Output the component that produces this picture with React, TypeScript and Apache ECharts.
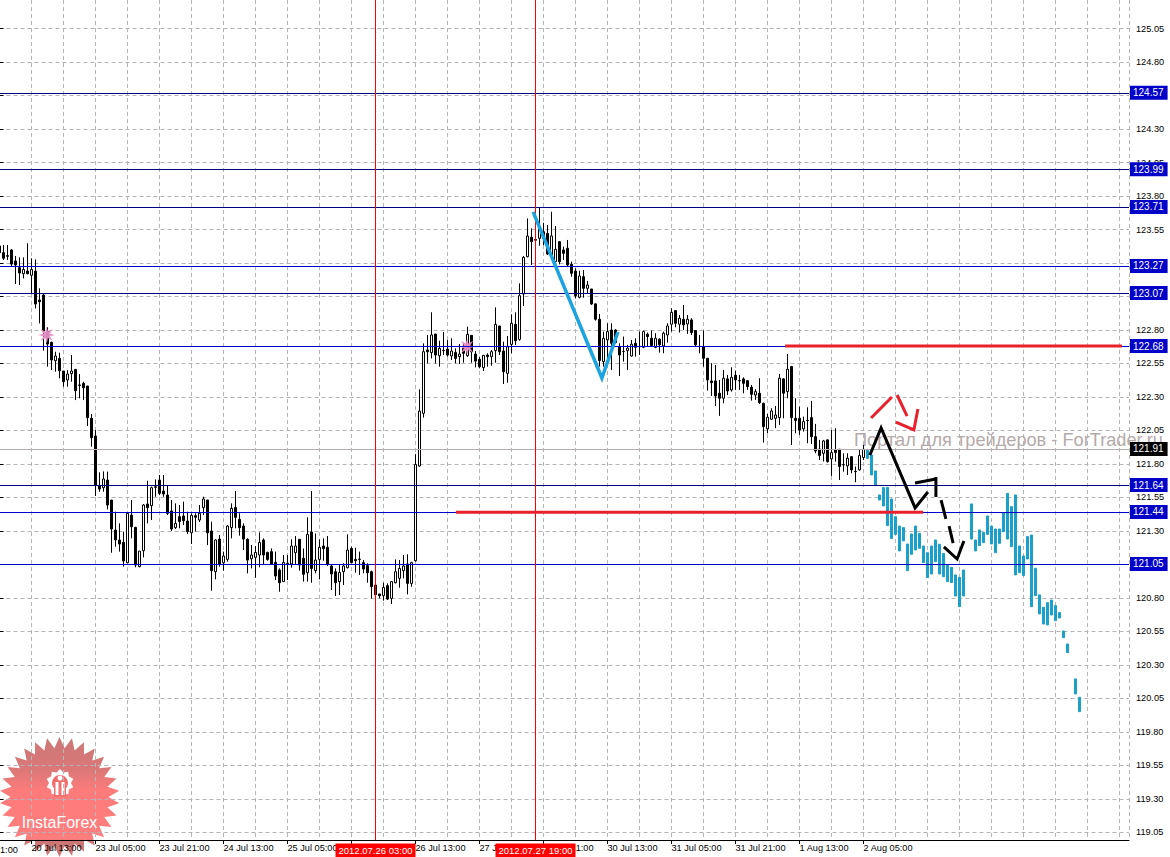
import React, { useEffect, useRef } from "react";
import * as echarts from "echarts";

// open, high, low, close of each hourly bar
const candles: number[][] = [
[123.427,123.44,123.35,123.377],[123.377,123.434,123.322,123.335],[123.355,123.434,123.322,123.35],[123.397,123.404,123.277,123.292],
[123.315,123.352,123.143,123.285],[123.265,123.342,123.136,123.225],[123.22,123.342,123.185,123.252],[123.24,123.447,123.215,123.22],
[123.208,123.335,123.073,123.252],[123.24,123.327,122.961,122.994],[123.024,123.111,122.849,123.011],[123.061,123.073,122.646,122.792],
[122.787,122.82,122.526,122.695],[122.708,122.713,122.501,122.576],[122.571,122.638,122.489,122.606],[122.588,122.631,122.439,122.496],
[122.494,122.494,122.377,122.414],[122.427,122.501,122.377,122.471],[122.474,122.613,122.414,122.494],[122.506,122.506,122.277,122.347],
[122.39,122.471,122.29,122.387],[122.402,122.414,122.277,122.369],[122.382,122.382,122.083,122.146],[122.141,122.173,121.929,121.996],
[122.009,122.053,121.561,121.643],[121.636,121.738,121.593,121.613],[121.623,121.745,121.593,121.688],[121.68,121.743,121.461,121.494],
[121.531,121.531,121.138,121.315],[121.307,121.444,121.183,121.233],[121.233,121.357,121.146,121.203],[121.215,121.295,121.034,121.076],
[121.063,121.437,121.06,121.432],[121.419,121.531,121.245,121.332],[121.327,121.332,121.029,121.046],[121.034,121.15,121.029,121.15],
[121.153,121.501,121.103,121.494],[121.501,121.675,121.357,121.474],[121.489,121.631,121.382,121.623],[121.63,121.685,121.556,121.626],
[121.68,121.718,121.568,121.581],[121.598,121.718,121.556,121.576],[121.568,121.636,121.419,121.432],[121.449,121.531,121.3,121.315],
[121.325,121.506,121.315,121.357],[121.407,121.494,121.32,121.37],[121.412,121.519,121.345,121.377],[121.374,121.444,121.277,121.295],
[121.287,121.432,121.203,121.417],[121.414,121.432,121.295,121.402],[121.382,121.494,121.367,121.432],[121.474,121.556,121.419,121.539],
[121.531,121.531,121.195,121.287],[121.3,121.37,120.854,121.004],[120.996,121.238,120.939,121.233],[121.24,121.27,121.034,121.053],
[121.063,121.146,121.004,121.113],[121.088,121.345,121.071,121.337],[121.325,121.506,121.245,121.469],[121.476,121.598,121.32,121.402],
[121.387,121.432,121.265,121.325],[121.337,121.357,121.158,121.24],[121.238,121.245,120.984,121.083],[121.093,121.195,121.021,121.121],
[121.103,121.188,120.951,121.14],[121.121,121.29,121.029,121.215],[121.233,121.245,121.051,121.121],[121.14,121.146,121.078,121.088],
[121.146,121.17,121.046,121.053],[121.066,121.146,120.934,120.964],[121.009,121.021,120.847,120.914],[120.922,121.121,120.92,121.066],
[121.06,121.121,120.934,121.058],[121.054,121.238,121.026,121.188],[121.138,121.263,121.046,121.188],[121.238,121.238,121.004,121.046],
[121.096,121.17,120.922,120.977],[120.989,121.402,120.922,121.275],[121.292,121.598,120.914,121.021],[121.004,121.282,120.984,121.083],
[121.088,121.238,120.939,121.178],[121.188,121.245,121.078,121.168],[121.178,121.263,121.039,121.054],[121.039,121.046,120.86,120.979],
[120.996,121.021,120.815,120.914],[120.922,121.046,120.822,120.991],[120.996,121.059,120.897,121.039],[121.026,121.275,121.021,121.158],
[121.17,121.183,121.059,121.064],[121.088,121.175,120.989,121.078],[121.09,121.146,120.972,121.088],[121.064,121.083,120.984,121.016],
[121.041,121.059,120.914,120.989],[120.996,121.004,120.797,120.884],[120.897,120.972,120.797,120.825],[120.83,120.83,120.797,120.817],
[120.817,120.914,120.78,120.879],[120.892,120.909,120.785,120.792],[120.797,120.927,120.755,120.922],[120.914,121.088,120.909,120.996],
[120.947,121.083,120.877,121.021],[121.004,121.121,120.947,121.039],[121.054,121.126,120.827,120.909],[120.909,121.071,120.884,121.064],
[121.078,121.874,121.071,121.797],[121.785,122.357,121.78,122.195],[122.178,122.7,122.146,122.638],[122.651,122.763,122.551,122.638],
[122.631,122.932,122.588,122.763],[122.77,122.77,122.551,122.613],[122.608,122.72,122.526,122.663],[122.648,122.785,122.613,122.646],
[122.658,122.725,122.601,122.613],[122.606,122.738,122.576,122.643],[122.633,122.663,122.551,122.588],[122.601,122.695,122.546,122.621],
[122.663,122.7,122.556,122.626],[122.608,122.825,122.6,122.768],[122.76,122.76,122.556,122.638],[122.621,122.643,122.521,122.568],
[122.581,122.601,122.514,122.526],[122.519,122.613,122.494,122.611],[122.613,122.626,122.526,122.601],[122.601,122.651,122.534,122.638],
[122.646,122.969,122.556,122.842],[122.83,122.83,122.613,122.638],[122.643,122.713,122.397,122.489],[122.476,122.755,122.407,122.675],
[122.693,122.917,122.626,122.85],[122.842,122.932,122.688,122.72],[122.73,123.148,122.72,123.056],[123.069,123.352,122.979,123.342],
[123.347,123.633,123.342,123.501],[123.492,123.559,123.285,123.459],[123.475,123.5,123.44,123.47],[123.484,123.715,123.429,123.559],
[123.534,123.601,123.434,123.484],[123.521,123.583,123.36,123.367],[123.36,123.683,123.323,123.502],[123.31,123.576,123.285,123.402],
[123.459,123.464,123.29,123.31],[123.397,123.422,123.323,123.372],[123.41,123.472,123.273,123.285],[123.29,123.31,123.198,123.223],
[123.24,123.26,123.036,123.056],[123.044,123.243,123.036,123.203],[123.198,123.248,123.041,123.111],[123.111,123.166,123.074,123.136],
[123.106,123.106,122.987,122.994],[122.995,122.99,122.87,122.88],[122.88,122.92,122.527,122.572],[122.564,122.788,122.527,122.738],
[122.726,122.85,122.532,122.788],[122.8,122.85,122.502,122.701],[122.8,122.805,122.7,122.706],[122.676,122.701,122.457,122.614],
[122.64,122.751,122.564,122.639],[122.646,122.689,122.502,122.664],[122.606,122.726,122.601,122.694],[122.701,122.738,122.601,122.671],
[122.678,122.788,122.614,122.676],[122.671,122.796,122.664,122.788],[122.768,122.781,122.676,122.751],[122.738,122.796,122.676,122.684],
[122.671,122.776,122.664,122.738],[122.731,122.738,122.631,122.689],[122.681,122.788,122.626,122.776],[122.763,122.85,122.706,122.83],
[122.843,122.962,122.788,122.932],[122.945,122.945,122.82,122.85],[122.843,122.912,122.781,122.888],[122.88,122.987,122.8,122.838],
[122.845,122.912,122.771,122.88],[122.875,122.888,122.763,122.781],[122.796,122.8,122.676,122.689],[122.678,122.763,122.626,122.676],
[122.676,122.796,122.527,122.589],[122.589,122.589,122.348,122.427],[122.42,122.552,122.308,122.407],[122.42,122.539,122.233,122.308],
[122.328,122.427,122.159,122.291],[122.291,122.502,122.253,122.44],[122.435,122.465,122.315,122.345],[122.353,122.522,122.34,122.447],
[122.462,122.497,122.353,122.427],[122.422,122.465,122.353,122.42],[122.435,122.447,122.328,122.402],[122.422,122.427,122.353,122.378],
[122.373,122.39,122.273,122.32],[122.315,122.358,122.278,122.34],[122.328,122.44,122.248,122.258],[122.253,122.258,121.96,122.079],
[122.062,122.174,122.029,122.149],[122.134,122.216,122.129,122.196],[122.141,122.233,122.067,122.166],[122.146,122.472,122.092,122.44],
[122.435,122.44,122.141,122.328],[122.34,122.621,122.291,122.507],[122.527,122.532,121.942,122.146],[122.141,122.291,122.029,122.124],
[122.141,122.228,122.017,122.054],[122.062,122.154,122.042,122.116],[122.126,122.223,121.955,122.124],[122.146,122.271,121.95,122.004],
[122.004,122.099,121.88,121.897],[121.912,121.98,121.83,121.863],[121.88,121.98,121.818,121.972],[121.98,121.985,121.81,121.818],
[121.838,122.054,121.711,121.885],[121.905,122.067,121.818,121.885],[121.91,121.91,121.681,121.781],[121.795,121.88,121.743,121.793],
[121.786,121.88,121.718,121.843],[121.855,121.855,121.731,121.756],[121.745,121.781,121.664,121.743],[121.756,121.905,121.75,121.863],
[121.848,121.942,121.83,121.91],
];

// projected path: bar position, top, bottom
const projection: number[][] = [
[217,121.905,121.842],[218,121.867,121.718],[219,121.748,121.643],[220,121.569,121.531],[221,121.624,121.487],[222,121.626,121.34],
[223,121.539,121.245],[224,121.407,121.275],[225,121.337,121.151],[226,121.325,121.226],[227,121.203,121.004],[228,121.278,121.126],
[229,121.337,121.158],[230,121.283,121.171],[231,121.188,121.064],[232,121.138,120.952],[233,121.188,120.979],[234,121.233,121.071],
[235,121.201,120.979],[236,121.133,120.959],[237,121.046,120.922],[238,121.029,120.915],[239,120.972,120.815],[240,120.954,120.735],
[241,121.009,120.815],[243,121.502,121.24],[244,121.233,121.151],[245,121.308,121.191],[246,121.29,121.213],[247,121.412,121.275],
[248,121.337,121.203],[249,121.315,121.138],[250,121.315,121.208],[251,121.437,121.295],[252,121.581,121.24],[253,121.482,121.183],
[254,121.569,120.972],[255,121.188,120.989],[256,121.114,120.967],[257,121.258,121.091],[258,121.27,120.735],[259,121.022,120.818],
[260,120.823,120.681],[261,120.731,120.606],[262,120.765,120.599],[263,120.785,120.673],[264,120.743,120.631],[265,120.691,120.651],
[266,120.554,120.504],[267,120.457,120.392],[269,120.196,120.084],[270,120.059,119.952],
];

const timeLabels: Record<number, string> = {
  8: "20 Jul 13:00", 24: "23 Jul 05:00", 40: "23 Jul 21:00", 56: "24 Jul 13:00", 72: "25 Jul 05:00",
  88: "25 Jul 21:00", 104: "26 Jul 13:00", 120: "27 Jul 05:00", 136: "27 Jul 21:00", 152: "30 Jul 13:00",
  168: "31 Jul 05:00", 184: "31 Jul 21:00", 200: "1 Aug 13:00", 216: "2 Aug 05:00",
};
const priceTicks = [119.05,119.3,119.55,119.8,120.05,120.3,120.55,120.8,121.05,121.3,121.55,121.8,122.05,122.3,122.55,122.8,123.05,123.3,123.55,123.8,124.05,124.3,124.55,124.8,125.05];

const levels = [
  { value: 124.57, label: "124.57", color: "#000080" },
  { value: 123.999, label: "123.99", color: "#000080" },
  { value: 123.718, label: "123.71", color: "#000080" },
  { value: 123.278, label: "123.27", color: "#0000cd" },
  { value: 123.076, label: "123.07", color: "#000080" },
  { value: 122.68, label: "122.68", color: "#0000cd" },
  { value: 121.643, label: "121.64", color: "#000080" },
  { value: 121.442, label: "121.44", color: "#0000cd" },
  { value: 121.054, label: "121.05", color: "#0000cd" },
];
const bidLevel = 121.912;
const cursorBars = [94, 134];
const cursorLabels = ["2012.07.26 03:00", "2012.07.27 19:00"];
const stars = [[11.8, 122.763], [116.9, 122.675]];

const redLevels = [
  [[196.4, 122.68], [280.6, 122.68]],
  [[114.1, 121.44], [230.9, 121.44]],
];
const bluePath = [[133.4, 123.681], [150.6, 122.442], [154.6, 122.785]];
const blackPaths = [
  [[217.6, 121.867], [220.4, 122.069], [228.9, 121.472], [232.1, 121.591]],
  [[228.9, 121.658], [234.1, 121.688]],
  [[234.1, 121.703], [234.1, 121.554]],
  [[235.4, 121.531], [236.6, 121.39]],
  [[237.4, 121.337], [238.4, 121.21]],
  [[236.1, 121.181], [239.4, 121.091], [241.1, 121.225]],
];
const redPaths = [
  [[217.9, 122.143], [223.1, 122.3]],
  [[224.4, 122.315], [226.9, 122.158]],
  [[224.1, 122.113], [228.6, 122.054], [229.6, 122.21]],
];

const FONT = "'Liberation Sans', Arial, sans-serif";
const X_MAX = 282.375;
const LABEL_BLUE = "#0000c8";

function starPath(n: number, outer: number, inner: number): string {
  let d = "path://";
  for (let i = 0; i < n * 2; i++) {
    const r = i % 2 ? inner : outer;
    const a = (Math.PI * i) / n;
    d += `${i ? "L" : "M"}${(12 + r * Math.sin(a)).toFixed(2)} ${(12 - r * Math.cos(a)).toFixed(2)}`;
  }
  return d + "Z";
}
function burst(cx: number, cy: number, outer: number, inner: number, n: number): number[][] {
  const pts: number[][] = [];
  for (let i = 0; i < n * 2; i++) {
    const r = i % 2 ? inner : outer;
    const a = (Math.PI * i) / n;
    pts.push([cx + r * Math.sin(a), cy - r * Math.cos(a)]);
  }
  return pts;
}

function poly(data: number[][], color: string, width: number) {
  return {
    type: "line", data, showSymbol: false, symbol: "none", silent: true, z: 12,
    lineStyle: { color, width, cap: "butt", join: "miter" },
  };
}

export default function App() {
  const ref = useRef<HTMLDivElement>(null);
  useEffect(() => {
    const chart = echarts.init(ref.current!, null, { renderer: "svg" });
    const logoFill = {
      type: "linear", x: 0, y: 0, x2: 0, y2: 1,
      colorStops: [
        { offset: 0, color: "#c76b6b" }, { offset: 0.28, color: "#d96c6c" }, { offset: 0.45, color: "#ff7070" },
        { offset: 0.85, color: "#ff7272" }, { offset: 0.87, color: "#c96a6a" }, { offset: 1, color: "#c96a6a" },
      ],
    };
    const logo: any[] = [
      { type: "polygon", z: -1, shape: { points: burst(59.5, 797, 60, 49, 30) }, style: { fill: logoFill, opacity: 0.92 } },
      { type: "polygon", z: -1, shape: { points: burst(60, 783, 14, 11, 10) }, style: { fill: "#fff" } },
      { type: "circle", z: -1, shape: { cx: 60, cy: 783, r: 8 }, style: { fill: "#f06e6e" } },
      { type: "rect", z: -1, shape: { x: 54, y: 787, width: 12, height: 10 }, style: { fill: "#f57070" } },
      { type: "circle", z: -1, shape: { cx: 60, cy: 778, r: 2.5 }, style: { fill: "#fff" } },
      { type: "rect", z: -1, shape: { x: 55.5, y: 782, width: 3, height: 13 }, style: { fill: "#fff" } },
      { type: "rect", z: -1, shape: { x: 61.5, y: 782, width: 3, height: 13 }, style: { fill: "#fff" } },
      { type: "text", z: 1, x: 59.5, y: 822, style: { text: "InstaForex", fill: "#fff", font: `16px ${FONT}`, align: "center", verticalAlign: "middle" } },
    ];
    const cursorBoxes: any[] = cursorBars.flatMap((b, i) => {
      const cx = b * 4 - 0.5;
      return [
        { type: "rect", z: 20, shape: { x: cx - 40, y: 843.5, width: 80, height: 13.5 }, style: { fill: "#ff0000" } },
        { type: "text", z: 21, x: cx, y: 850.5, style: { text: cursorLabels[i], fill: "#fff", font: `9.5px ${FONT}`, align: "center", verticalAlign: "middle" } },
      ];
    });
    const option: any = {
      animation: false,
      backgroundColor: "#ffffff",
      grid: { left: -0.5, top: 0, width: 1129.5, height: 840, containLabel: false, outerBoundsMode: "none" },
      xAxis: [
        {
          type: "value", min: 0, max: X_MAX, interval: 8,
          axisLine: { show: true, lineStyle: { color: "#000", width: 1 } },
          axisTick: { show: true, length: 4, customValues: Object.keys(timeLabels).map(Number), lineStyle: { color: "#000" } },
          axisLabel: {
            show: true, customValues: Object.keys(timeLabels).map(Number), formatter: (v: number) => timeLabels[v] || "",
            align: "left", margin: 3, color: "#000", fontFamily: FONT, fontSize: 9.2, hideOverlap: false,
          },
          splitLine: { show: false },
        },
        {
          type: "value", min: 0, max: X_MAX, interval: 8, position: "bottom",
          axisLine: { show: false }, axisTick: { show: false }, axisLabel: { show: false },
          splitLine: { show: true, lineStyle: { color: "#b4b8b4", type: [4, 3], width: 1 } },
        },
      ],
      yAxis: {
        type: "value", position: "right", min: 118.994, max: 125.2627, scale: true,
        axisLine: { show: true, lineStyle: { color: "#000", width: 1 } },
        axisTick: { show: true, length: 4, customValues: priceTicks, lineStyle: { color: "#000" } },
        axisLabel: {
          show: true, customValues: priceTicks, formatter: (v: number) => v.toFixed(2),
          margin: 7, color: "#000", fontFamily: FONT, fontSize: 9.2, hideOverlap: false,
        },
        splitLine: { show: true, lineStyle: { color: "#b8b0b8", type: [4, 3], width: 1 } },
      },
      series: [
        {
          type: "candlestick", barWidth: 2, silent: true, z: 3, clip: false,
          data: candles.map((c, i) => [i, c[0], c[3], c[2], c[1]]),
          encode: { x: 0, y: [1, 2, 3, 4] },
          itemStyle: { color: "#ffffff", color0: "#000000", borderColor: "#000000", borderColor0: "#000000", borderWidth: 1 },
          markLine: {
            silent: true, symbol: "none", precision: 3, z: 8,
            data: [
              ...levels.map((l) => ({
                yAxis: l.value, name: l.label,
                lineStyle: { color: l.color, width: 1, type: "solid" },
                label: { show: true, position: "end", distance: 1, formatter: l.label, color: "#fff", backgroundColor: LABEL_BLUE, padding: [2, 4, 2, 3], fontFamily: FONT, fontSize: 10 },
              })),
              {
                yAxis: bidLevel, name: "121.91",
                lineStyle: { color: "#b4acac", width: 1, type: "solid" },
                label: { show: true, position: "end", distance: 1, formatter: "121.91", color: "#fff", backgroundColor: "#000", padding: [2, 4, 2, 3], fontFamily: FONT, fontSize: 10 },
              },
              ...cursorBars.map((b) => ({
                xAxis: b, name: "",
                lineStyle: { color: "#ff0000", width: 1, type: "solid" },
                label: { show: false },
              })),
            ],
          },
        },
        {
          type: "candlestick", barWidth: 2.5, silent: true, z: 3,
          data: projection.map((p) => [p[0], p[2], p[1], p[2], p[1]]),
          encode: { x: 0, y: [1, 2, 3, 4] },
          itemStyle: { color: "#1ba1c9", color0: "#1ba1c9", borderColor: "#1ba1c9", borderColor0: "#1ba1c9", borderWidth: 1 },
        },
        {
          type: "scatter", silent: true, z: 5, data: stars, symbol: starPath(8, 10, 4), symbolSize: 17,
          itemStyle: { color: "#e88cc4", opacity: 0.95 },
        },
        ...redLevels.map((d) => poly(d, "#e8202c", 3)),
        poly(bluePath, "#1ca4e0", 3.5),
        ...blackPaths.map((d) => poly(d, "#000000", 3)),
        ...redPaths.map((d) => poly(d, "#e8202c", 3)),
      ],
      graphic: [
        ...logo,
        { type: "text", z: 1, x: 854, y: 440, style: { text: "Портал для трейдеров - ForTrader.ru", fill: "#b5aaaa", font: `18.2px ${FONT}`, verticalAlign: "middle" } },
        { type: "text", z: 21, x: 0, y: 850, style: { text: "1:00", fill: "#000", font: `9.2px ${FONT}`, verticalAlign: "middle" } },
        ...cursorBoxes,
      ],
    };
    chart.setOption(option);
    return () => chart.dispose();
  }, []);
  return <div ref={ref} style={{ position: "fixed", left: 0, top: 0, width: 1170, height: 857, background: "#fff" }} />;
}
